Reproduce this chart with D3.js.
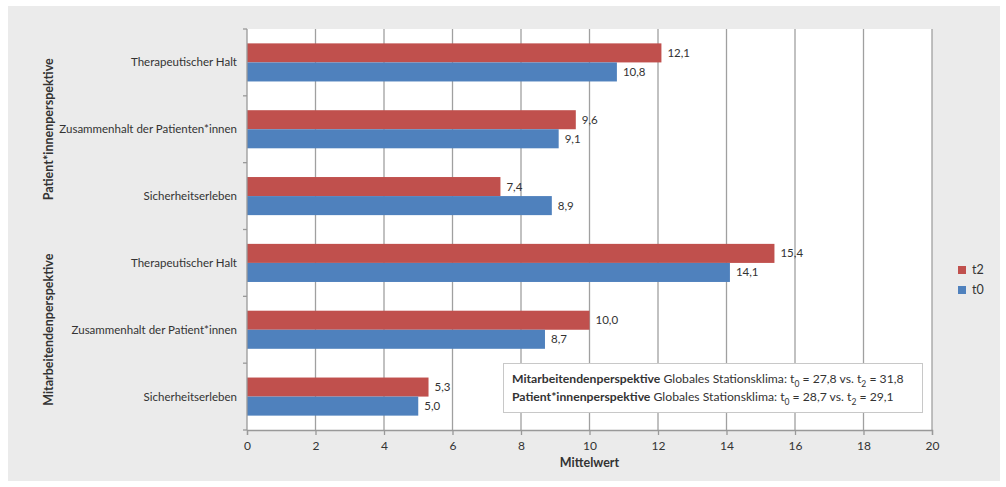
<!DOCTYPE html>
<html>
<head>
<meta charset="utf-8">
<script src="https://cdn.jsdelivr.net/npm/d3@7"></script>
<style>
  html, body { margin: 0; padding: 0; background: #fff; }
  svg { display: block; font-family: Lato, "Open Sans", sans-serif; }
</style>
</head>
<body>
<svg id="chart" width="1006" height="487"></svg>
<script>
// Subscale items, top to bottom
const categories = [
  "Therapeutischer Halt",
  "Zusammenhalt der Patienten*innen",
  "Sicherheitserleben",
  "Therapeutischer Halt ",
  "Zusammenhalt der Patient*innen",
  "Sicherheitserleben "
];
const groups = ["Patient*innenperspektive", "Mitarbeitendenperspektive"];
const groupOf = [0, 0, 0, 1, 1, 1];
const seriesNames = ["t2", "t0"];
const valuesT2 = [12.1, 9.6, 7.4, 15.4, 10.0, 5.3];
const valuesT0 = [10.8, 9.1, 8.9, 14.1, 8.7, 5.0];
const xTicks = [0, 2, 4, 6, 8, 10, 12, 14, 16, 18, 20];
const colors = { t2: "#c0504d", t0: "#4f81bd" };

const svg = d3.select("#chart");

// panel background
svg.append("rect").attr("x", 8).attr("y", 6).attr("width", 992).attr("height", 475)
  .attr("fill", "#ebebeb");

const plot = { left: 247, right: 932, top: 29, bottom: 430 };

const x = d3.scaleLinear().domain([0, 20]).range([plot.left, plot.right]);
const y = d3.scaleBand().domain(categories).range([plot.top, plot.bottom]).paddingInner(0.43).paddingOuter(0.215);
const inner = d3.scaleBand().domain(seriesNames).range([0, y.bandwidth()]);

// plot background
svg.append("rect").attr("x", plot.left).attr("y", plot.top)
  .attr("width", plot.right - plot.left).attr("height", plot.bottom - plot.top)
  .attr("fill", "#fff");

// vertical gridlines
svg.append("g").selectAll("line").data(xTicks.slice(1)).join("line")
  .attr("x1", d => x(d)).attr("x2", d => x(d))
  .attr("y1", plot.top).attr("y2", plot.bottom)
  .attr("stroke", "#a0a0a0").attr("stroke-width", 1.3);

// bars
const rows = categories.map((c, i) => ({ c, t2: valuesT2[i], t0: valuesT0[i] }));
const barG = svg.append("g");
seriesNames.forEach(s => {
  barG.selectAll(".bar-" + s).data(rows).join("rect")
    .attr("class", "bar-" + s)
    .attr("x", x(0))
    .attr("y", d => y(d.c) + inner(s))
    .attr("width", d => x(d[s]) - x(0))
    .attr("height", inner.bandwidth())
    .attr("fill", colors[s]);
  barG.selectAll(".lab-" + s).data(rows).join("text")
    .attr("class", "lab-" + s)
    .attr("x", d => x(d[s]) + 6)
    .attr("y", d => y(d.c) + inner(s) + inner.bandwidth() / 2)
    .attr("dy", "0.35em")
    .attr("font-size", 11.5)
    .attr("fill", "#333")
    .text(d => d3.format(".1f")(d[s]).replace(".", ","));
});

// x axis
const xAxis = svg.append("g").attr("transform", `translate(0,${plot.bottom})`)
  .call(d3.axisBottom(x).tickValues(xTicks).tickSize(5).tickPadding(6));
xAxis.select(".domain").attr("stroke", "#999").attr("stroke-width", 1.3);
xAxis.selectAll(".tick line").attr("stroke", "#999").attr("stroke-width", 1.3);
xAxis.selectAll(".tick text").attr("font-size", 12).attr("fill", "#333")
  .attr("font-family", "Lato, sans-serif");

// y axis: line with separator ticks between categories
const bounds = d3.range(categories.length + 1).map(i => plot.top + i * (plot.bottom - plot.top) / categories.length);
svg.append("line").attr("x1", plot.left).attr("x2", plot.left)
  .attr("y1", plot.top).attr("y2", plot.bottom)
  .attr("stroke", "#999").attr("stroke-width", 1.3);
svg.append("g").selectAll("line").data(bounds).join("line")
  .attr("x1", plot.left - 4).attr("x2", plot.left)
  .attr("y1", d => d).attr("y2", d => d)
  .attr("stroke", "#999").attr("stroke-width", 1.3);

// category labels
svg.append("g").selectAll("text").data(categories).join("text")
  .attr("x", 237)
  .attr("y", d => y(d) + y.bandwidth() / 2)
  .attr("dy", "0.35em")
  .attr("text-anchor", "end")
  .attr("font-size", 11.5)
  .attr("fill", "#333")
  .text(d => d.trim());

// group labels (rotated)
groups.forEach((g, gi) => {
  const idx = categories.map((c, i) => i).filter(i => groupOf[i] === gi);
  const y0 = bounds[idx[0]], y1 = bounds[idx[idx.length - 1] + 1];
  const cy = (y0 + y1) / 2;
  svg.append("text")
    .attr("transform", `translate(53,${cy}) rotate(-90)`)
    .attr("text-anchor", "middle")
    .attr("font-size", 12.5)
    .attr("font-weight", "bold")
    .attr("fill", "#333")
    .text(g);
});

// x axis title
svg.append("text")
  .attr("x", (plot.left + plot.right) / 2).attr("y", 467)
  .attr("text-anchor", "middle")
  .attr("font-size", 12.5).attr("font-weight", "bold").attr("fill", "#333")
  .text("Mittelwert");

// legend
const legend = svg.append("g");
seriesNames.forEach((s, i) => {
  const ly = 270 + i * 20;
  legend.append("rect").attr("x", 958).attr("y", ly - 4).attr("width", 8).attr("height", 8)
    .attr("fill", colors[s]);
  legend.append("text").attr("x", 972).attr("y", ly).attr("dy", "0.35em")
    .attr("font-size", 12.5).attr("fill", "#333").text(s);
});

// summary box
const note = [
  { bold: "Mitarbeitendenperspektive", rest: " Globales Stationsklima: t", a: "27,8", b: "31,8" },
  { bold: "Patient*innenperspektive", rest: " Globales Stationsklima: t", a: "28,7", b: "29,1" }
];
svg.append("rect").attr("x", 503.5).attr("y", 363.5).attr("width", 419).attr("height", 49)
  .attr("fill", "#fff").attr("stroke", "#c8c8c8");
note.forEach((n, i) => {
  const t = svg.append("text").attr("x", 512).attr("y", 383 + i * 18)
    .attr("font-size", 12.2).attr("fill", "#333");
  t.append("tspan").attr("font-weight", "bold").text(n.bold);
  t.append("tspan").text(n.rest);
  t.append("tspan").attr("font-size", 8.5).attr("dy", 4).text("0");
  t.append("tspan").attr("dy", -4).text(" = " + n.a + " vs. t");
  t.append("tspan").attr("font-size", 8.5).attr("dy", 4).text("2");
  t.append("tspan").attr("dy", -4).text(" = " + n.b);
});
</script>
</body>
</html>
